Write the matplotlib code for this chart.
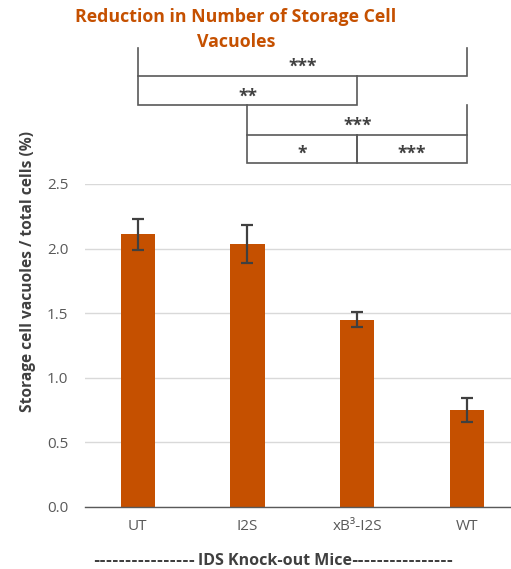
import matplotlib
matplotlib.use("Agg")
import matplotlib.pyplot as plt
import matplotlib.transforms as mtransforms

plt.rcParams['font.family'] = ['Open Sans', 'DejaVu Sans']

# ---- data ----
groups = ["UT", "I2S", "xB³-I2S", "WT"]
means = [2.11, 2.035, 1.45, 0.75]
errors = [0.12, 0.145, 0.06, 0.09]
yticks = [0.0, 0.5, 1.0, 1.5, 2.0, 2.5]

# significance comparisons: (left group, right group, label, row)
comparisons = [
    ("UT", "WT", "***", 0),
    ("UT", "xB³-I2S", "**", 1),
    ("I2S", "WT", "***", 2),
    ("I2S", "xB³-I2S", "*", 3),
    ("xB³-I2S", "WT", "***", 3),
]

BAR = "#C55000"
DARK = "#404040"
GREY = "#595959"

W, H = 511, 569
fig = plt.figure(figsize=(W / 100, H / 100), dpi=100)

ax_left, ax_right = 85, 511
ax_top, ax_bot = 184, 507
ax = fig.add_axes([ax_left / W, (H - ax_bot) / H,
                   (ax_right - ax_left) / W, (ax_bot - ax_top) / H])

x = list(range(len(groups)))
ax.bar(x, means, width=0.31, color=BAR, zorder=2)
ax.errorbar(x, means, yerr=errors, fmt="none", ecolor=DARK,
            elinewidth=1.6, capsize=4.5, capthick=1.6, zorder=3)

ax.set_ylim(0, 2.5)
ax.set_xlim(-0.48, 3.4)
ax.set_yticks(yticks)
ax.set_yticklabels([f"{v:.1f}" for v in yticks])
ax.set_xticks(x)
ax.set_xticklabels(groups)
ax.tick_params(axis="both", length=0, colors=GREY, labelsize=11)
ax.tick_params(axis="y", pad=12)
ax.tick_params(axis="x", pad=9)
ax.yaxis.grid(True, color="#D9D9D9", linewidth=1.0, zorder=0)
ax.set_axisbelow(True)
for side in ["top", "right", "left"]:
    ax.spines[side].set_visible(False)
ax.spines["bottom"].set_color(GREY)
ax.spines["bottom"].set_linewidth(1.0)

# ---- significance brackets above the plot ----
row_edges_px = [47.7, 76.0, 105.3, 134.7, 163.0]
row_edges = [(ax_bot - p) / (ax_bot - ax_top) for p in row_edges_px]
trans = mtransforms.blended_transform_factory(ax.transData, ax.transAxes)
for left, right, label, row in comparisons:
    x0, x1 = groups.index(left), groups.index(right)
    top, bot = row_edges[row], row_edges[row + 1]
    ax.plot([x0, x0, x1, x1], [top, bot, bot, top], transform=trans,
            color=GREY, linewidth=1.2, clip_on=False, solid_joinstyle="miter")
    ax.text((x0 + x1) / 2, bot + 9.0 / (ax_bot - ax_top), label,
            transform=trans, ha="center", va="center", fontsize=12.5,
            fontweight="bold", color=DARK)

# ---- titles and axis labels ----
fig.text(236 / W, 1 - 17 / H, "Reduction in Number of Storage Cell",
         ha="center", va="center", fontsize=12.8, fontweight="bold", color=BAR)
fig.text(236 / W, 1 - 42 / H, "Vacuoles",
         ha="center", va="center", fontsize=12.8, fontweight="bold", color=BAR)
fig.text(28 / W, 1 - 271 / H, "Storage cell vacuoles / total cells (%)",
         rotation=90, ha="center", va="center", fontsize=11.2,
         fontweight="bold", color=DARK)

# x-axis caption: dashed rules either side of the group name
xlab_y = 1 - 561 / H
fig.text(275 / W, xlab_y, "IDS Knock-out Mice", ha="center", va="center",
         fontsize=11.5, fontweight="bold", color=DARK)
fig.text(195 / W, xlab_y, "-" * 16, ha="right", va="center",
         fontsize=11, fontweight="bold", color=DARK, family=["DejaVu Sans"])
fig.text(351 / W, xlab_y, "-" * 16, ha="left", va="center",
         fontsize=11, fontweight="bold", color=DARK, family=["DejaVu Sans"])

fig.savefig("out.png", dpi=100, facecolor="white")
